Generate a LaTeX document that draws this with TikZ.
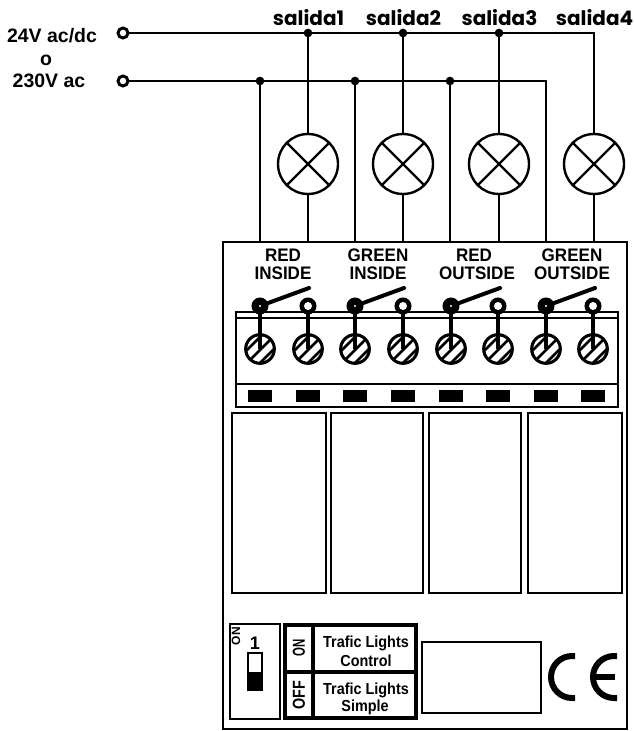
\documentclass[tikz,border=0pt]{standalone}
\usepackage{fontspec}
\setmainfont{Liberation Sans}
\newfontfamily\stroke{Poppins}
\newcommand{\nar}[2]{\scalebox{#1}[1]{#2}}
\tikzset{
 x=0.75pt,y=-0.75pt,
 wire/.style={line width=1.8pt,line cap=round,line join=miter},
 thick2/.style={line width=2.1pt},
 med/.style={line width=1.7pt},
 terminal/.style={circle,draw,fill=white,line width=2.2pt,minimum size=7.5pt,inner sep=0,outer sep=0},
 junction/.style={circle,fill=black,minimum size=6.5pt,inner sep=0,outer sep=0},
 lamp/.style={circle,draw,fill=white,line width=1.8pt,minimum size=45pt,inner sep=0,outer sep=0},
 contact/.style={circle,fill=black,minimum size=12.8pt,inner sep=0,outer sep=0},
 screw/.style={circle,draw,line width=2.3pt,minimum size=21.5pt,inner sep=0,outer sep=0},
 lbl/.style={font=\fontsize{14.6pt}{16pt}\selectfont\bfseries,inner sep=0},
 sal/.style={font=\fontsize{15pt}{16pt}\stroke\bfseries,inner sep=0},
 rel/.style={font=\fontsize{13.6pt}{15pt}\selectfont\bfseries,inner sep=0},
 tl/.style={font=\fontsize{12pt}{13pt}\selectfont\bfseries,inner sep=0},
 tv/.style={font=\fontsize{13pt}{14pt}\selectfont\bfseries,inner sep=0,rotate=90},
}
\begin{document}
\begin{tikzpicture}
\useasboundingbox (0,0) rectangle (634,731);
% outer box
\node[draw,med,minimum width=303pt,minimum height=365pt,inner sep=0,outer sep=0,anchor=north west] (box) at (223,242) {};
% terminal strip
\draw[thick2] (236,312) rectangle (618,407);
\draw[med] (236,318) -- (618,318);
\draw[thick2] (236,384) -- (618,384);
% relays
\foreach \a/\b in {232/326,331/423,429/521,528/622}
  \draw[thick2] (\a,413) rectangle (\b,593);
% text left
\node[lbl] at (52,36) {24V ac/dc};
\node[lbl] at (46,60) {o};
\node[lbl] at (49,81) {230V ac};
% terminals & junctions
\node[terminal] (t1) at (123,33) {};
\node[terminal] (t2) at (123,81) {};
\foreach \n/\x in {1/308,2/403,3/499}
  \node[junction] (ja\n) at (\x,33) {};
\foreach \n/\x in {1/260,2/355,3/450}
  \node[junction] (jb\n) at (\x,81) {};
\coordinate (ca) at (594,33);
\coordinate (cb) at (546,81);
% lamps
\foreach \n/\x in {1/308,2/403,3/499,4/594}{
  \node[lamp] (l\n) at (\x,164) {};
  \draw[wire] (l\n.45) -- (l\n.225);
  \draw[wire] (l\n.135) -- (l\n.315);
  \node[sal] at (\x+0.5,18) {salida\n};
}
% bus
\draw[wire] (t1) -- (ja1) -- (ja2) -- (ja3) -- (ca) -- (l4.north);
\draw[wire] (t2) -- (jb1) -- (jb2) -- (jb3) -- (cb);
\draw[wire] (ja1) -- (l1.north);
\draw[wire] (ja2) -- (l2.north);
\draw[wire] (ja3) -- (l3.north);
% contacts, screws
\foreach \n/\x in {1/260,2/308,3/355,4/403,5/451,6/498,7/546,8/593}{
  \node[contact] (c\n) at (\x,306) {};
  \node[screw] (s\n) at (\x,349) {};
  \begin{scope}
   \clip (\x,349) circle (15);
   \draw[line width=1.9pt] (\x-25,349+13) -- (\x+25,349-37);
   \draw[line width=1.9pt] (\x-25,349+26) -- (\x+25,349-24);
   \draw[line width=1.9pt] (\x-25,349+39) -- (\x+25,349-11);
  \end{scope}
  \draw[line width=3.6pt] (c\n.center) -- (s\n.center);
  \fill[black] (\x-12,390) rectangle (\x+12,402);
}
\foreach \n/\x in {2/308,4/403,6/498,8/593}
  \fill[white] (\x,306) circle (4);
% levers
\foreach \n/\x in {1/260,3/355,5/451,7/546}{
  \coordinate (e\n) at (\x+49,288);
  \draw[line width=3pt,line cap=round] (c\n) -- (e\n);
  \fill[white] (\x,306) circle (1.2);
}
% wires to box
\foreach \n in {1,2,3}
  \draw[wire] (jb\n) -- (jb\n |- box.north);
\draw[wire] (cb) -- (cb |- box.north);
\foreach \n in {1,2,3,4}
  \draw[wire] (l\n.south) -- (l\n |- box.north);
% relay labels
\node[rel] at (283,255) {\nar{.94}{RED}};
\node[rel] at (283,273) {\nar{.94}{INSIDE}};
\node[rel] at (378,255) {\nar{.94}{GREEN}};
\node[rel] at (378,273) {\nar{.94}{INSIDE}};
\node[rel] at (474,255) {\nar{.94}{RED}};
\node[rel] at (477,273) {\nar{.94}{OUTSIDE}};
\node[rel] at (572,255) {\nar{.94}{GREEN}};
\node[rel] at (572,273) {\nar{.94}{OUTSIDE}};
% dip switch
\draw[thick2] (230,624) rectangle (280,719);
\node[rotate=90,inner sep=0,font=\fontsize{9pt}{10pt}\selectfont\bfseries] at (236,636) {ON};
\node[inner sep=0,font=\fontsize{13.6pt}{16pt}\selectfont\bfseries] at (255,643) {1};
\draw[line width=2pt] (248,653) rectangle (262,690);
\fill (248,672) rectangle (262,690);
% table
\draw[line width=2.6pt] (285,625) rectangle (416,718);
\draw[line width=2.6pt] (285,672) -- (416,672);
\draw[line width=2.6pt] (313,625) -- (313,718);
\node[tv] at (299,648) {\nar{.66}{ON}};
\node[tv] at (299,695) {\nar{.83}{OFF}};
\node[tl] at (366,643) {\nar{.9}{Trafic Lights}};
\node[tl] at (366,661) {\nar{.9}{Control}};
\node[tl] at (366,690) {\nar{.9}{Trafic Lights}};
\node[tl] at (365,707) {\nar{.9}{Simple}};
% blank
\draw[med] (422,642) rectangle (541,713);
% CE
\draw[line width=4.5pt] (575,656) -- (572,656) arc (270:90:21) -- (575,698);
\draw[line width=4.5pt] (617,656) -- (614,656) arc (270:90:21) -- (617,698);
\draw[line width=4.5pt] (592,677) -- (615,677);
\end{tikzpicture}
\end{document}
